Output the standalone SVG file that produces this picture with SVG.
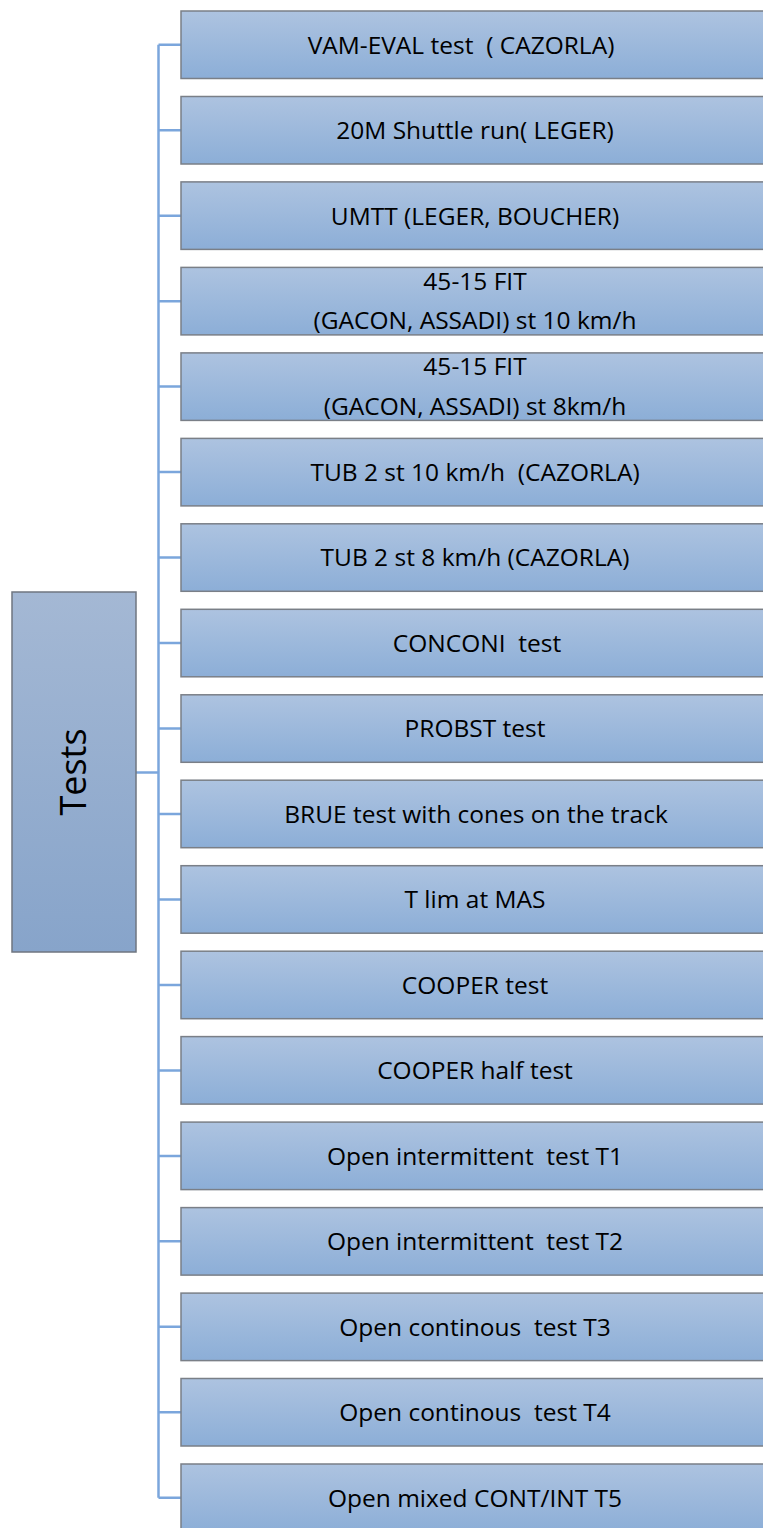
<svg xmlns="http://www.w3.org/2000/svg" width="763" height="1528" viewBox="0 0 763 1528">
<style>
.box{fill:url(#g);stroke:#7a7f87;stroke-width:1.5}
.root{fill:url(#g2);stroke:#6f7680;stroke-width:1.5}
.t{font-family:"Open Sans","Liberation Sans",sans-serif;font-size:24.5px;fill:#000;text-anchor:middle;white-space:pre}
.rt{font-family:"Open Sans","Liberation Sans",sans-serif;font-size:36px;fill:#000;text-anchor:middle}
.c{fill:none;stroke:#7ba6dc;stroke-width:2.5}
</style>
<defs>
<linearGradient id="g" x1="0" y1="0" x2="0" y2="1">
<stop offset="0" stop-color="#adc3e0"/>
<stop offset="1" stop-color="#8caed7"/>
</linearGradient>
<linearGradient id="g2" x1="0" y1="0" x2="0" y2="1">
<stop offset="0" stop-color="#a4b8d4"/>
<stop offset="1" stop-color="#87a4ca"/>
</linearGradient>
</defs>
<rect width="763" height="1528" fill="#fff"/>
<g id="connectors">
<path class="c" d="M158.5 44.8V1497.8"/>
<path class="c" d="M136 772.5H158.5"/>
<path class="c" d="M158.5 44.8H181M158.5 130.2H181M158.5 215.7H181M158.5 301.2H181M158.5 386.6H181M158.5 472.1H181M158.5 557.6H181M158.5 643H181M158.5 728.5H181M158.5 814H181M158.5 899.4H181M158.5 984.9H181M158.5 1070.4H181M158.5 1155.9H181M158.5 1241.3H181M158.5 1326.8H181M158.5 1412.3H181M158.5 1497.8H181"/>
</g>
<g id="tests">
<rect class="root" x="12" y="592" width="124" height="360"/>
<text class="rt" transform="translate(86,772) rotate(-90)">Tests</text>
</g>
<g id="n1"><rect class="box" x="181" y="11" width="600" height="67.5"/><text class="t" x="461" y="53.5" xml:space="preserve">VAM-EVAL test  ( CAZORLA)</text></g>
<g id="n2"><rect class="box" x="181" y="96.5" width="600" height="67.5"/><text class="t" x="475" y="139">20M Shuttle run( LEGER)</text></g>
<g id="n3"><rect class="box" x="181" y="181.9" width="600" height="67.5"/><text class="t" x="475" y="224.5">UMTT (LEGER, BOUCHER)</text></g>
<g id="n4"><rect class="box" x="181" y="267.4" width="600" height="67.5"/><text class="t" x="475" y="290">45-15 FIT</text><text class="t" x="475" y="328.5">(GACON, ASSADI) st 10 km/h</text></g>
<g id="n5"><rect class="box" x="181" y="352.9" width="600" height="67.5"/><text class="t" x="475" y="375">45-15 FIT</text><text class="t" x="475" y="414.5">(GACON, ASSADI) st 8km/h</text></g>
<g id="n6"><rect class="box" x="181" y="438.4" width="600" height="67.5"/><text class="t" x="475" y="480.5" xml:space="preserve">TUB 2 st 10 km/h  (CAZORLA)</text></g>
<g id="n7"><rect class="box" x="181" y="523.8" width="600" height="67.5"/><text class="t" x="475" y="566">TUB 2 st 8 km/h (CAZORLA)</text></g>
<g id="n8"><rect class="box" x="181" y="609.3" width="600" height="67.5"/><text class="t" x="477" y="651.5" xml:space="preserve">CONCONI  test</text></g>
<g id="n9"><rect class="box" x="181" y="694.8" width="600" height="67.5"/><text class="t" x="475" y="737">PROBST test</text></g>
<g id="n10"><rect class="box" x="181" y="780.2" width="600" height="67.5"/><text class="t" x="476" y="822.5">BRUE test with cones on the track</text></g>
<g id="n11"><rect class="box" x="181" y="865.7" width="600" height="67.5"/><text class="t" x="475" y="908">T lim at MAS</text></g>
<g id="n12"><rect class="box" x="181" y="951.2" width="600" height="67.5"/><text class="t" x="475" y="993.5">COOPER test</text></g>
<g id="n13"><rect class="box" x="181" y="1036.6" width="600" height="67.5"/><text class="t" x="475" y="1079">COOPER half test</text></g>
<g id="n14"><rect class="box" x="181" y="1122.1" width="600" height="67.5"/><text class="t" x="475" y="1164.5" xml:space="preserve">Open intermittent  test T1</text></g>
<g id="n15"><rect class="box" x="181" y="1207.6" width="600" height="67.5"/><text class="t" x="475" y="1250" xml:space="preserve">Open intermittent  test T2</text></g>
<g id="n16"><rect class="box" x="181" y="1293.1" width="600" height="67.5"/><text class="t" x="475" y="1335.5" xml:space="preserve">Open continous  test T3</text></g>
<g id="n17"><rect class="box" x="181" y="1378.5" width="600" height="67.5"/><text class="t" x="475" y="1421" xml:space="preserve">Open continous  test T4</text></g>
<g id="n18"><rect class="box" x="181" y="1464" width="600" height="67.5"/><text class="t" x="475" y="1506.5">Open mixed CONT/INT T5</text></g>
</svg>
